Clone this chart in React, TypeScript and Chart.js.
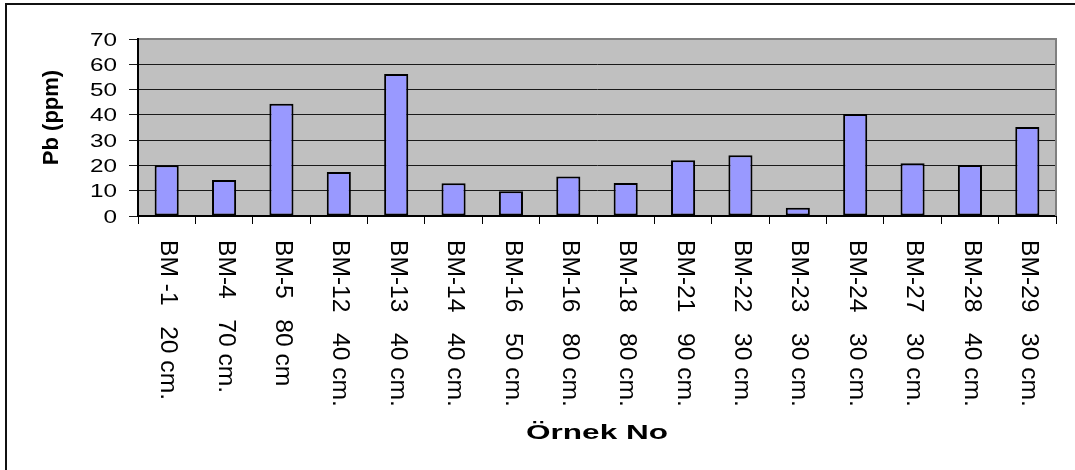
import React, { useEffect, useRef } from "react";
import { Chart, registerables } from "chart.js";

Chart.register(...registerables);

const sampleIds = ["BM -1", "BM-4", "BM-5", "BM-12", "BM-13", "BM-14", "BM-16", "BM-16", "BM-18", "BM-21", "BM-22", "BM-23", "BM-24", "BM-27", "BM-28", "BM-29"];
const depths = ["20 cm.", "70 cm.", "80 cm", "40 cm.", "40 cm.", "40 cm.", "50 cm.", "80 cm.", "80 cm.", "90 cm.", "30 cm.", "30 cm.", "30 cm.", "30 cm.", "40 cm.", "30 cm."];
const pbValues = [20.1, 14.2, 44.4, 17.4, 56.2, 13.0, 9.8, 15.6, 13.1, 22.0, 24.0, 3.3, 40.3, 20.9, 20.2, 35.2];
const yTickValues = [0, 10, 20, 30, 40, 50, 60, 70];
const yTitle = "Pb (ppm)";
const xTitle = "Örnek No";

const categories = sampleIds.map((id, i) => id + "   " + depths[i]);

const FONT = "'Liberation Sans', Arial, sans-serif";

const drawPlugin = {
  id: "excelLook",
  beforeDraw(chart: any) {
    const { ctx, chartArea } = chart;
    ctx.save();
    ctx.fillStyle = "#C0C0C0";
    ctx.fillRect(chartArea.left, chartArea.top, chartArea.right - chartArea.left, chartArea.bottom - chartArea.top);
    ctx.restore();
  },
  beforeDatasetsDraw(chart: any) {
    const { ctx, chartArea } = chart;
    ctx.save();
    ctx.fillStyle = "#808080";
    ctx.fillRect(chartArea.left + 1, chartArea.top - 1, chartArea.right - chartArea.left, 2);
    ctx.fillRect(chartArea.right - 1, chartArea.top - 1, 2, chartArea.bottom - chartArea.top + 1);
    ctx.restore();
  },
  afterDraw(chart: any) {
    const { ctx, chartArea } = chart;
    const xs = chart.scales.x;
    const ys = chart.scales.y;
    ctx.save();
    ctx.fillStyle = "#000";

    // y tick labels (horizontally stretched like the original)
    ctx.font = `18px ${FONT}`;
    ctx.textAlign = "right";
    ctx.textBaseline = "alphabetic";
    yTickValues.forEach((v) => {
      const y = ys.getPixelForValue(v);
      ctx.save();
      ctx.translate(chartArea.left - 21, y + 6.5);
      ctx.scale(1.35, 1);
      ctx.fillText(String(v), 0, 0);
      ctx.restore();
    });

    // x category labels, rotated to read top-to-bottom
    ctx.font = `23px ${FONT}`;
    ctx.textAlign = "left";
    ctx.textBaseline = "middle";
    categories.forEach((label, i) => {
      const x = xs.getPixelForValue(i);
      ctx.save();
      ctx.translate(x + 1, chartArea.bottom + 24);
      ctx.rotate(Math.PI / 2);
      ctx.scale(1.07, 1);
      ctx.fillText(label, 0, 0);
      ctx.restore();
    });

    // y axis title
    ctx.font = `bold 22px ${FONT}`;
    ctx.textAlign = "center";
    ctx.textBaseline = "alphabetic";
    ctx.save();
    ctx.translate(chartArea.left - 80, (chartArea.top + chartArea.bottom) / 2 - 10);
    ctx.rotate(-Math.PI / 2);
    ctx.fillText(yTitle, 0, 0);
    ctx.restore();

    // x axis title
    ctx.font = `bold 21px ${FONT}`;
    ctx.save();
    ctx.translate((chartArea.left + chartArea.right) / 2, 439);
    ctx.scale(1.5, 1);
    ctx.fillText(xTitle, 0, 0);
    ctx.restore();

    ctx.restore();
  },
};

export default function App() {
  const canvasRef = useRef<HTMLCanvasElement | null>(null);

  useEffect(() => {
    const canvas = canvasRef.current;
    if (!canvas) return;
    const chart = new Chart(canvas, {
      type: "bar",
      data: {
        labels: categories,
        datasets: [
          {
            data: pbValues,
            backgroundColor: "#9999FF",
            borderColor: "#000000",
            borderWidth: 2,
            borderSkipped: false,
            barPercentage: 0.42,
            categoryPercentage: 1,
          },
        ],
      },
      options: {
        responsive: false,
        animation: false,
        devicePixelRatio: 1,
        layout: { padding: { top: 39, right: 19, left: 0, bottom: 0 } },
        plugins: {
          legend: { display: false },
          tooltip: { enabled: false },
          title: { display: false },
        },
        scales: {
          x: {
            type: "category",
            offset: true,
            ticks: { display: false },
            grid: {
              offset: true,
              drawOnChartArea: false,
              drawTicks: true,
              tickLength: 8,
              color: "#000",
              lineWidth: 1,
            },
            border: { display: true, color: "#000", width: 2 },
            afterFit: (scale: any) => {
              scale.height = 254;
            },
          },
          y: {
            min: 0,
            max: 70,
            ticks: { display: false, stepSize: 10 },
            grid: {
              drawOnChartArea: true,
              drawTicks: true,
              tickLength: 9,
              color: "#1a1a1a",
              lineWidth: 1,
            },
            border: { display: true, color: "#000", width: 2 },
            afterFit: (scale: any) => {
              scale.width = 138;
            },
          },
        },
      },
      plugins: [drawPlugin],
    });
    return () => chart.destroy();
  }, []);

  return (
    <div
      style={{
        position: "fixed",
        left: 0,
        top: 0,
        width: 1075,
        height: 470,
        overflow: "hidden",
        background: "#fff",
      }}
    >
      <div
        style={{
          position: "absolute",
          left: 5,
          top: 3,
          width: 2000,
          height: 2000,
          borderTop: "2px solid #111",
          borderLeft: "2px solid #111",
        }}
      />
      <canvas
        ref={canvasRef}
        width={1075}
        height={470}
        style={{ position: "absolute", left: 0, top: 0, width: 1075, height: 470 }}
      />
    </div>
  );
}
